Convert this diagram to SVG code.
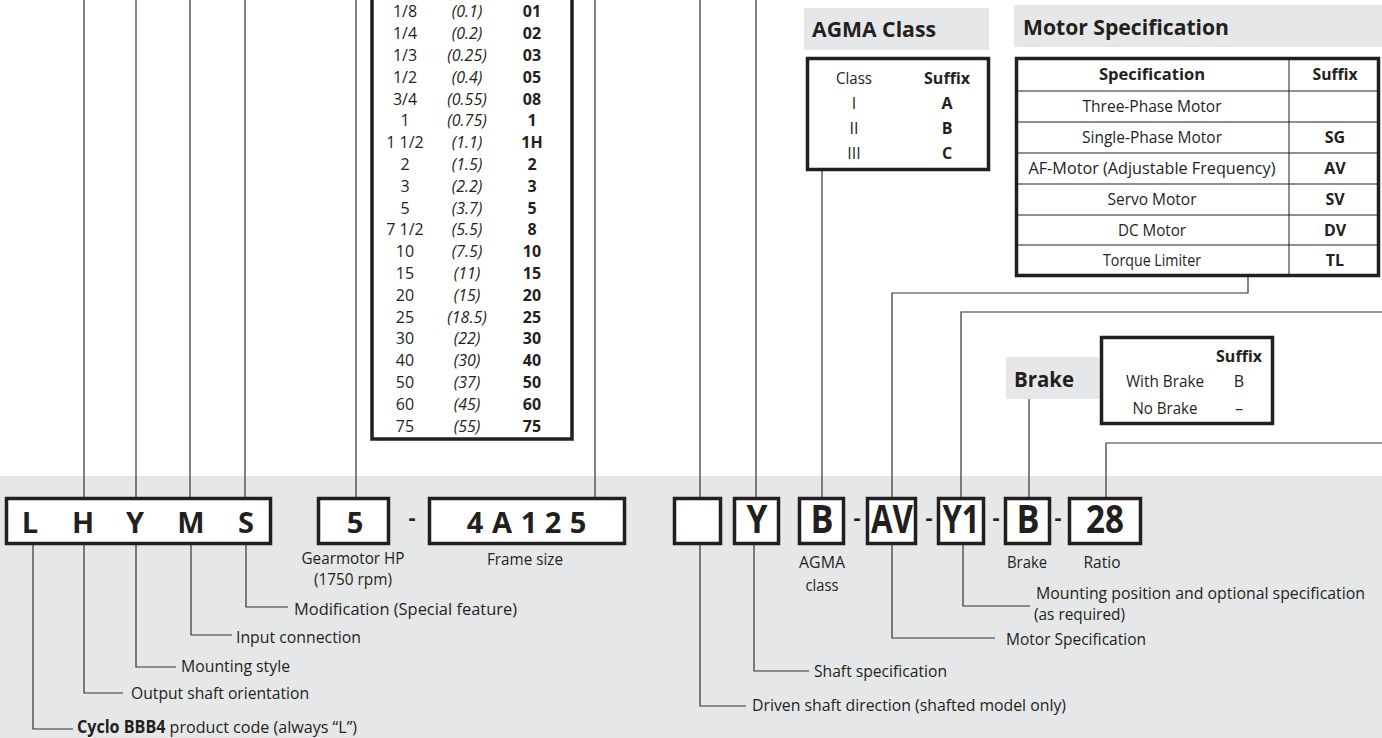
<svg xmlns="http://www.w3.org/2000/svg" width="1382" height="738" viewBox="0 0 1382 738">
<style>
text{font-family:"Open Sans","Noto Sans","Liberation Sans",sans-serif;fill:#231f20;font-size:16px}
.c{text-anchor:middle}
.b{font-weight:700}
.i{font-style:italic}
.lbl{font-size:17px}
.sm{font-size:15.5px}
.hdr{font-weight:700;font-size:22px}
.code{font-weight:700;font-size:29px;text-anchor:middle}
.codec{font-weight:700;font-size:39px;text-anchor:middle}
.dash{font-weight:700;font-size:22px;text-anchor:middle}
.box{fill:#fff;stroke:#231f20;stroke-width:3.5}
.tbl{fill:#fff;stroke:#231f20;stroke-width:3.5}
.grid{stroke:#231f20;stroke-width:1;fill:none}
.gray{fill:#e6e7e8}
.conn path{fill:none;stroke:#333;stroke-width:1.2}
</style>
<rect class="gray" x="0" y="476" width="1382" height="262"/>

<g class="conn" id="connectors">
<path d="M84 0V497M136 0V497M190 0V497M245 0V497M356 0V497M595 0V497M700 0V497M756 0V497"/>
<path d="M822 171V497"/>
<path d="M892 497V293H1248V276"/>
<path d="M961 497V312H1382"/>
<path d="M1029 399V497"/>
<path d="M1106 497V443H1382"/>
<path d="M33 545V729H73"/>
<path d="M84 545V693H123"/>
<path d="M136 545V667H176"/>
<path d="M191 545V635H232"/>
<path d="M246 545V607H288"/>
<path d="M700 545V706H746"/>
<path d="M754 545V671H809"/>
<path d="M892 545V638H995"/>
<path d="M963 545V606H1030"/>
</g>

<g id="hp-table">
<rect class="tbl" x="372" y="-5" width="200" height="444"/>
<g class="c">
<text x="405" y="17">1/8</text><text x="467" y="17" class="i">(0.1)</text><text x="532" y="17" class="b">01</text>
<text x="405" y="39">1/4</text><text x="467" y="39" class="i">(0.2)</text><text x="532" y="39" class="b">02</text>
<text x="405" y="61">1/3</text><text x="467" y="61" class="i">(0.25)</text><text x="532" y="61" class="b">03</text>
<text x="405" y="83">1/2</text><text x="467" y="83" class="i">(0.4)</text><text x="532" y="83" class="b">05</text>
<text x="405" y="105">3/4</text><text x="467" y="105" class="i">(0.55)</text><text x="532" y="105" class="b">08</text>
<text x="405" y="126">1</text><text x="467" y="126" class="i">(0.75)</text><text x="532" y="126" class="b">1</text>
<text x="405" y="148">1 1/2</text><text x="467" y="148" class="i">(1.1)</text><text x="532" y="148" class="b">1H</text>
<text x="405" y="170">2</text><text x="467" y="170" class="i">(1.5)</text><text x="532" y="170" class="b">2</text>
<text x="405" y="192">3</text><text x="467" y="192" class="i">(2.2)</text><text x="532" y="192" class="b">3</text>
<text x="405" y="214">5</text><text x="467" y="214" class="i">(3.7)</text><text x="532" y="214" class="b">5</text>
<text x="405" y="235">7 1/2</text><text x="467" y="235" class="i">(5.5)</text><text x="532" y="235" class="b">8</text>
<text x="405" y="257">10</text><text x="467" y="257" class="i">(7.5)</text><text x="532" y="257" class="b">10</text>
<text x="405" y="279">15</text><text x="467" y="279" class="i">(11)</text><text x="532" y="279" class="b">15</text>
<text x="405" y="301">20</text><text x="467" y="301" class="i">(15)</text><text x="532" y="301" class="b">20</text>
<text x="405" y="323">25</text><text x="467" y="323" class="i">(18.5)</text><text x="532" y="323" class="b">25</text>
<text x="405" y="344">30</text><text x="467" y="344" class="i">(22)</text><text x="532" y="344" class="b">30</text>
<text x="405" y="366">40</text><text x="467" y="366" class="i">(30)</text><text x="532" y="366" class="b">40</text>
<text x="405" y="388">50</text><text x="467" y="388" class="i">(37)</text><text x="532" y="388" class="b">50</text>
<text x="405" y="410">60</text><text x="467" y="410" class="i">(45)</text><text x="532" y="410" class="b">60</text>
<text x="405" y="432">75</text><text x="467" y="432" class="i">(55)</text><text x="532" y="432" class="b">75</text>
</g>
</g>

<g id="agma">
<rect class="gray" x="804" y="8" width="185" height="42"/>
<text class="hdr" x="812" y="37" textLength="124" lengthAdjust="spacingAndGlyphs">AGMA Class</text>
<rect class="box" x="807.5" y="58.5" width="181" height="111"/>
<g class="c lbl">
<text x="854" y="84" textLength="36" lengthAdjust="spacingAndGlyphs">Class</text>
<text x="947" y="84" class="b" textLength="46" lengthAdjust="spacingAndGlyphs">Suffix</text>
<text x="854" y="109">I</text><text x="947" y="109" class="b">A</text>
<text x="854" y="134">II</text><text x="947" y="134" class="b">B</text>
<text x="854" y="159">III</text><text x="947" y="159" class="b">C</text>
</g>
</g>

<g id="motor-spec">
<rect class="gray" x="1014" y="5" width="368" height="42"/>
<text class="hdr" x="1023" y="35" textLength="206" lengthAdjust="spacingAndGlyphs">Motor Specification</text>
<rect class="tbl" x="1016.5" y="58.5" width="362" height="217"/>
<path class="grid" d="M1289 58V276M1016 91H1380M1016 122H1380M1016 153H1380M1016 184H1380M1016 215H1380M1016 245H1380"/>
<g class="c lbl">
<text x="1152" y="80" class="b" textLength="106" lengthAdjust="spacingAndGlyphs">Specification</text>
<text x="1335" y="80" class="b" textLength="45" lengthAdjust="spacingAndGlyphs">Suffix</text>
<text x="1152" y="112" textLength="139" lengthAdjust="spacingAndGlyphs">Three-Phase Motor</text>
<text x="1152" y="143" textLength="140" lengthAdjust="spacingAndGlyphs">Single-Phase Motor</text>
<text x="1335" y="143" class="b">SG</text>
<text x="1152" y="174" textLength="247" lengthAdjust="spacingAndGlyphs">AF-Motor (Adjustable Frequency)</text>
<text x="1335" y="174" class="b">AV</text>
<text x="1152" y="205" textLength="89" lengthAdjust="spacingAndGlyphs">Servo Motor</text>
<text x="1335" y="205" class="b">SV</text>
<text x="1152" y="236" textLength="68" lengthAdjust="spacingAndGlyphs">DC Motor</text>
<text x="1335" y="236" class="b">DV</text>
<text x="1152" y="266" textLength="98" lengthAdjust="spacingAndGlyphs">Torque Limiter</text>
<text x="1335" y="266" class="b">TL</text>
</g>
</g>

<g id="brake">
<rect class="gray" x="1006" y="357" width="93" height="42"/>
<text class="hdr" x="1014" y="387" textLength="60" lengthAdjust="spacingAndGlyphs">Brake</text>
<rect class="box" x="1101.5" y="337.5" width="171" height="86"/>
<g class="lbl">
<text x="1262" y="362" class="b" text-anchor="end" textLength="46" lengthAdjust="spacingAndGlyphs">Suffix</text>
<text x="1165" y="387" class="c" textLength="78" lengthAdjust="spacingAndGlyphs">With Brake</text>
<text x="1239" y="387" class="c">B</text>
<text x="1165" y="414" class="c" textLength="65" lengthAdjust="spacingAndGlyphs">No Brake</text>
<text x="1239" y="414" class="c">–</text>
</g>
</g>

<g id="code-lhyms">
<rect class="box" x="6.5" y="498.5" width="264" height="45"/>
<text class="code" x="30" y="533">L</text>
<text class="code" x="83" y="533">H</text>
<text class="code" x="135" y="533">Y</text>
<text class="code" x="191" y="533">M</text>
<text class="code" x="246" y="533">S</text>
</g>
<g id="code-hp">
<rect class="box" x="318.5" y="498.5" width="70" height="45"/>
<text class="code" x="355" y="533">5</text>
<text class="c sm" x="353" y="564" textLength="103" lengthAdjust="spacingAndGlyphs">Gearmotor HP</text>
<text class="c sm" x="353" y="585" textLength="78" lengthAdjust="spacingAndGlyphs">(1750 rpm)</text>
</g>
<text class="dash" x="412" y="525">-</text>
<g id="code-frame">
<rect class="box" x="429.5" y="498.5" width="195" height="45"/>
<text class="code" x="475 502 529 553 578" y="533">4A125</text>
<text class="c lbl" x="525" y="565" textLength="76" lengthAdjust="spacingAndGlyphs">Frame size</text>
</g>
<g id="code-driven">
<rect class="box" x="674.5" y="498.5" width="46" height="45"/>
</g>
<g id="code-shaft">
<rect class="box" x="734.5" y="498.5" width="44" height="45"/>
<text class="codec" x="757" y="533" textLength="21" lengthAdjust="spacingAndGlyphs">Y</text>
</g>
<g id="code-agma">
<rect class="box" x="799.5" y="498.5" width="44" height="45"/>
<text class="codec" x="822" y="533" textLength="23" lengthAdjust="spacingAndGlyphs">B</text>
<text class="c lbl" x="822" y="568" textLength="46" lengthAdjust="spacingAndGlyphs">AGMA</text>
<text class="c lbl" x="822" y="591" textLength="33" lengthAdjust="spacingAndGlyphs">class</text>
</g>
<text class="dash" x="857" y="525">-</text>
<g id="code-motor">
<rect class="box" x="867.5" y="498.5" width="48" height="45"/>
<text class="codec" x="892" y="533" textLength="42" lengthAdjust="spacingAndGlyphs">AV</text>
</g>
<text class="dash" x="929" y="525">-</text>
<g id="code-mount">
<rect class="box" x="938.5" y="498.5" width="45" height="45"/>
<text class="codec" x="961" y="533" textLength="37" lengthAdjust="spacingAndGlyphs">Y1</text>
</g>
<text class="dash" x="996" y="525">-</text>
<g id="code-brake">
<rect class="box" x="1005.5" y="498.5" width="44" height="45"/>
<text class="codec" x="1028" y="533" textLength="23" lengthAdjust="spacingAndGlyphs">B</text>
<text class="c lbl" x="1027" y="568" textLength="40" lengthAdjust="spacingAndGlyphs">Brake</text>
</g>
<text class="dash" x="1058" y="525">-</text>
<g id="code-ratio">
<rect class="box" x="1069.5" y="498.5" width="71" height="45"/>
<text class="codec" x="1105" y="533" textLength="38" lengthAdjust="spacingAndGlyphs">28</text>
<text class="c lbl" x="1102" y="568" textLength="37" lengthAdjust="spacingAndGlyphs">Ratio</text>
</g>

<g id="labels">
<text class="lbl" x="294" y="615" textLength="223" lengthAdjust="spacingAndGlyphs">Modification (Special feature)</text>
<text class="lbl" x="236" y="643" textLength="125" lengthAdjust="spacingAndGlyphs">Input connection</text>
<text class="lbl" x="181" y="672" textLength="109" lengthAdjust="spacingAndGlyphs">Mounting style</text>
<text class="lbl" x="131" y="699" textLength="178" lengthAdjust="spacingAndGlyphs">Output shaft orientation</text>
<text class="lbl" x="77" y="733" textLength="280" lengthAdjust="spacingAndGlyphs"><tspan class="b">Cyclo BBB4</tspan> product code (always “L”)</text>
<text class="sm" x="1036" y="599" textLength="329" lengthAdjust="spacingAndGlyphs">Mounting position and optional specification</text>
<text class="sm" x="1034" y="620" textLength="91" lengthAdjust="spacingAndGlyphs">(as required)</text>
<text class="lbl" x="1006" y="645" textLength="140" lengthAdjust="spacingAndGlyphs">Motor Specification</text>
<text class="lbl" x="814" y="677" textLength="133" lengthAdjust="spacingAndGlyphs">Shaft specification</text>
<text class="lbl" x="752" y="711" textLength="314" lengthAdjust="spacingAndGlyphs">Driven shaft direction (shafted model only)</text>
</g>
</svg>
